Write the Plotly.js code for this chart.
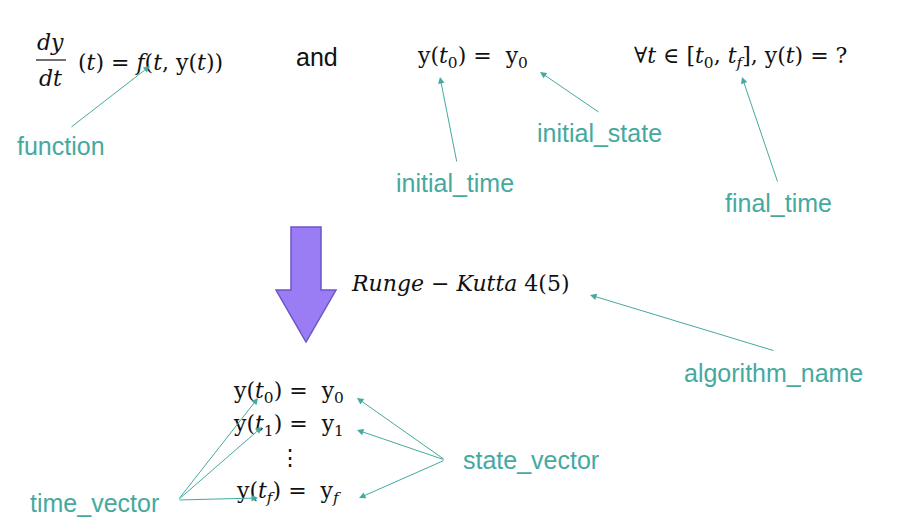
<!DOCTYPE html>
<html>
<head>
<meta charset="utf-8">
<script src="https://cdn.plot.ly/plotly-3.0.1.min.js"></script>
<style>body{margin:0;background:#fff}</style>
</head>
<body>
<div id="chart" style="width:914px;height:531px"></div>
<script>
// Diagram content
var mathTexts = [
    '<i>dy</i>', '<i>dt</i>', '(<i>t</i>) = <i>f</i>(<i>t</i>, y(<i>t</i>))',
    'y(<i>t</i><sub>0</sub>) =  y<sub>0</sub>',
    '∀<i>t</i> ∈ [<i>t</i><sub>0</sub>, <i>t<sub>f</sub></i>], y(<i>t</i>) = ?',
    '<i>Runge</i> − <i>Kutta</i> 4(5)',
    'y(<i>t</i><sub>0</sub>) =  y<sub>0</sub>',
    'y(<i>t</i><sub>1</sub>) =  y<sub>1</sub>',
    '⋮',
    'y(<i>t<sub>f</sub></i>) =  y<i><sub>f</sub></i>'
];
var mathX = [50, 50, 150, 472, 740, 460, 288, 288, 290, 288];
var mathY = [42, 78, 62, 57, 57, 283, 392, 425, 457, 492];

var labelTexts = ['and', 'function', 'initial_time', 'initial_state', 'final_time',
                  'algorithm_name', 'state_vector', 'time_vector'];
var labelX = [317, 61, 455, 599, 778, 773, 531, 94];
var labelY = [57, 146, 183, 133, 203, 373, 460, 503];

// Arrows: tail -> head
var arrowTail = [[70, 128], [457, 163], [600, 113], [778, 183], [775, 351],
                 [445, 460], [445, 460], [445, 460], [178, 500], [178, 500], [178, 500]];
var arrowHead = [[150, 66], [440, 77], [540, 72], [742, 77], [590, 295],
                 [357, 398], [357, 430], [359, 498], [258, 398], [262, 427], [258, 498]];

var teal = '#45a9a0';
var annotations = [];

for (var i = 0; i < mathTexts.length; i++) {
    annotations.push({
        x: mathX[i], y: mathY[i], xref: 'x', yref: 'y', text: mathTexts[i],
        showarrow: false, font: {family: 'DejaVu Serif', size: 22, color: '#111'}
    });
}
for (var j = 0; j < labelTexts.length; j++) {
    annotations.push({
        x: labelX[j], y: labelY[j], xref: 'x', yref: 'y', text: labelTexts[j],
        showarrow: false,
        font: {family: 'Liberation Sans', size: 25, color: j == 0 ? '#111' : teal}
    });
}
for (var k = 0; k < arrowTail.length; k++) {
    annotations.push({
        x: arrowHead[k][0], y: arrowHead[k][1], ax: arrowTail[k][0], ay: arrowTail[k][1],
        xref: 'x', yref: 'y', axref: 'x', ayref: 'y', text: '', showarrow: true,
        arrowhead: 2, arrowsize: 1.3, arrowwidth: 1, arrowcolor: teal
    });
}

var shapes = [
    // fraction bar
    {type: 'line', xref: 'x', yref: 'y', x0: 36, x1: 66, y0: 60, y1: 60, line: {color: '#111', width: 1.2}},
    // big downward arrow
    {type: 'path', xref: 'x', yref: 'y',
     path: 'M 291 227 L 321 227 L 321 290 L 336 290 L 306 342 L 276 290 L 291 290 Z',
     fillcolor: '#9a7cf4', line: {color: '#6b55c8', width: 1.5}}
];

var layout = {
    width: 914, height: 531,
    margin: {l: 0, r: 0, t: 0, b: 0},
    paper_bgcolor: '#fff', plot_bgcolor: '#fff',
    xaxis: {range: [0, 914], visible: false, fixedrange: true},
    yaxis: {range: [531, 0], visible: false, fixedrange: true},
    showlegend: false,
    annotations: annotations,
    shapes: shapes
};

Plotly.newPlot('chart', [], layout, {displayModeBar: false, staticPlot: true});
</script>
</body>
</html>
